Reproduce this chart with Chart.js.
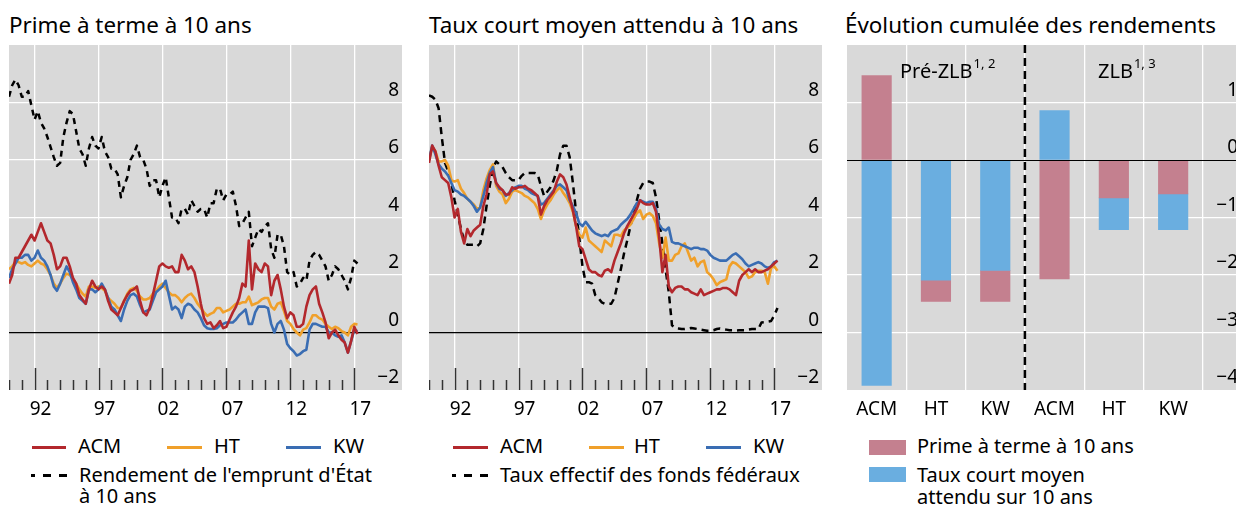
<!DOCTYPE html>
<html><head><meta charset="utf-8">
<script src="https://cdn.jsdelivr.net/npm/chart.js@4.4.1/dist/chart.umd.min.js"></script>
<style>
html,body{margin:0;padding:0;background:#fff;}
body{width:1236px;height:506px;overflow:hidden;position:relative;font-family:"Noto Sans",sans-serif;color:#000;}
.title{position:absolute;top:10px;font-size:22.4px;line-height:30px;white-space:nowrap;}
.leg{position:absolute;font-size:20px;line-height:24px;white-space:nowrap;}
.ln{position:absolute;height:3px;}
.dash{position:absolute;height:3px;background:#000;}
.sq{position:absolute;width:37px;height:15px;}
canvas{position:absolute;display:block;}
</style></head><body>

<div class="title" style="left:9px">Prime à terme à 10 ans</div>
<div class="title" style="left:429px">Taux court moyen attendu à 10 ans</div>
<div class="title" style="left:845px">Évolution cumulée des rendements</div>

<canvas id="c1" width="393" height="385" style="left:9px;top:45px"></canvas>
<canvas id="c2" width="393" height="385" style="left:429px;top:45px"></canvas>
<canvas id="c3" width="394" height="385" style="left:847px;top:45px"></canvas>

<!-- legend left -->
<div class="ln" style="left:32px;top:446px;width:34px;background:#b3282d"></div>
<div class="leg" style="left:78px;top:434px">ACM</div>
<div class="ln" style="left:167px;top:446px;width:35px;background:#f0a02a"></div>
<div class="leg" style="left:214px;top:434px">HT</div>
<div class="ln" style="left:286px;top:446px;width:35px;background:#3a6db3"></div>
<div class="leg" style="left:333px;top:434px">KW</div>
<div class="dash" style="left:31px;top:474px;width:4px"></div>
<div class="dash" style="left:43px;top:474px;width:8px"></div>
<div class="dash" style="left:59px;top:474px;width:8px"></div>
<div class="leg" style="left:79px;top:464px;line-height:21px">Rendement de l'emprunt d'État<br>à 10 ans</div>

<!-- legend middle -->
<div class="ln" style="left:453px;top:446px;width:35px;background:#b3282d"></div>
<div class="leg" style="left:500px;top:434px">ACM</div>
<div class="ln" style="left:589px;top:446px;width:35px;background:#f0a02a"></div>
<div class="leg" style="left:634px;top:434px">HT</div>
<div class="ln" style="left:706px;top:446px;width:35px;background:#3a6db3"></div>
<div class="leg" style="left:753px;top:434px">KW</div>
<div class="dash" style="left:452px;top:474px;width:4px"></div>
<div class="dash" style="left:464px;top:474px;width:8px"></div>
<div class="dash" style="left:480px;top:474px;width:8px"></div>
<div class="leg" style="left:500px;top:464px;line-height:21px">Taux effectif des fonds fédéraux</div>

<!-- legend right -->
<div class="sq" style="left:869px;top:440px;background:#c4808f"></div>
<div class="leg" style="left:917px;top:434px">Prime à terme à 10 ans</div>
<div class="sq" style="left:869px;top:467px;background:#6aaee0"></div>
<div class="leg" style="left:917px;top:464px;line-height:21.5px">Taux court moyen<br>attendu sur 10 ans</div>

<script>
// ---------------- DATA ----------------
const dates = [
1990,1990.25,1990.5,1990.75, 1991,1991.25,1991.5,1991.75, 1992,1992.25,1992.5,1992.75,
1993,1993.25,1993.5,1993.75, 1994,1994.25,1994.5,1994.75, 1995,1995.25,1995.5,1995.75,
1996,1996.25,1996.5,1996.75, 1997,1997.25,1997.5,1997.75, 1998,1998.25,1998.5,1998.75,
1999,1999.25,1999.5,1999.75, 2000,2000.25,2000.5,2000.75, 2001,2001.25,2001.5,2001.75,
2002,2002.25,2002.5,2002.75, 2003,2003.25,2003.5,2003.75, 2004,2004.25,2004.5,2004.75,
2005,2005.25,2005.5,2005.75, 2006,2006.25,2006.5,2006.75, 2007,2007.25,2007.5,2007.75,
2008,2008.25,2008.5,2008.75, 2009,2009.25,2009.5,2009.75, 2010,2010.25,2010.5,2010.75,
2011,2011.25,2011.5,2011.75, 2012,2012.25,2012.5,2012.75, 2013,2013.25,2013.5,2013.75,
2014,2014.25,2014.5,2014.75, 2015,2015.25,2015.5,2015.75, 2016,2016.25,2016.5,2016.75,
2017,2017.25];

// Left panel: 10-year term premium
const termPremiumACM = [
1.7,2.0,2.6,2.6, 2.8,3.0,3.2,3.4, 3.2,3.5,3.8,3.5, 3.2,3.1,2.7,2.2, 2.3,2.6,2.6,2.3,
1.9,1.7,1.3,1.15, 1.0,1.5,1.8,1.6, 1.5,1.6,1.5,1.1, 0.8,0.7,0.6,0.85, 1.1,1.3,1.45,1.5,
1.6,1.1,0.7,0.6, 0.85,1.3,1.8,2.3, 2.4,2.3,2.25,2.3, 2.1,2.1,2.7,2.5, 2.2,2.3,2.1,1.6,
1.0,0.5,0.3,0.35, 0.15,0.25,0.4,0.15, 0.2,0.45,0.7,0.9, 1.2,1.7,1.6,3.2, 1.5,2.4,2.2,2.1,
2.4,2.3,1.3,1.8, 2.0,1.5,0.9,0.5, 0.7,0.6,0.2,0.2, 0.3,0.9,1.3,1.5, 1.6,1.0,0.7,0.35,
-0.2,0.0,0.1,-0.1, -0.25,-0.35,-0.7,-0.3, 0.2,-0.05];
const termPremiumHT = [
2.2,2.3,2.45,2.45, 2.4,2.45,2.35,2.3, 2.4,2.5,2.4,2.35, 2.2,2.0,1.7,1.55, 1.7,1.9,2.05,2.0,
1.85,1.7,1.5,1.35, 1.25,1.6,1.6,1.55, 1.6,1.55,1.45,1.2, 1.1,1.0,0.85,0.85, 1.1,1.35,1.5,1.55,
1.45,1.25,1.15,1.15, 1.2,1.35,1.45,1.6, 1.7,1.55,1.4,1.3, 1.3,1.2,1.05,1.2, 1.3,1.35,1.2,1.0,
0.85,0.7,0.58,0.65, 0.7,0.85,0.85,0.7, 0.75,0.8,0.9,1.0, 1.0,1.05,1.05,1.25, 0.95,1.0,1.05,1.15,
1.2,1.2,0.9,0.8, 1.0,1.05,0.75,0.4, 0.3,0.12,0.0,-0.1, 0.1,0.15,0.35,0.6, 0.6,0.5,0.45,0.3,
0.2,0.12,0.2,0.15, 0.05,0.0,-0.1,0.2, 0.3,0.28];
const termPremiumKW = [
1.9,2.2,2.4,2.6, 2.6,2.7,2.7,2.5, 2.6,2.85,2.6,2.5, 2.3,2.0,1.6,1.45, 1.7,2.0,2.3,2.1,
1.75,1.5,1.2,1.1, 1.0,1.5,1.5,1.4, 1.5,1.7,1.5,1.2, 0.9,0.8,0.6,0.4, 0.8,1.1,1.3,1.35,
1.25,0.95,0.7,0.75, 0.8,1.1,1.4,1.5, 1.6,1.8,1.3,0.8, 0.9,0.8,0.5,0.9, 1.0,0.95,0.8,0.7,
0.5,0.25,0.15,0.12, 0.12,0.15,0.25,0.3, 0.35,0.35,0.35,0.45, 0.6,0.7,0.8,0.3, 0.3,0.7,0.9,0.9,
0.9,0.85,0.3,0.0, 0.3,0.4,0.1,-0.4, -0.55,-0.65,-0.8,-0.75, -0.65,-0.6,0.1,0.3, 0.3,0.25,0.2,0.2,
0.0,0.0,-0.1,-0.15, -0.1,-0.35,-0.7,-0.3, 0.1,0.05];
const govBond10y = [
8.2,8.6,8.8,8.6, 8.2,8.2,8.4,7.9, 7.4,7.7,7.3,7.1, 6.8,6.45,6.1,5.8, 5.9,6.8,7.3,7.7,
7.6,7.0,6.4,6.2, 5.8,6.4,6.8,6.5, 6.4,6.8,6.3,6.1, 5.7,5.7,5.5,4.7, 5.1,5.4,6.0,6.2,
6.5,6.1,6.0,5.7, 5.1,5.3,5.3,4.7, 5.1,5.4,4.7,4.0, 4.0,3.8,4.3,4.3, 4.1,4.6,4.4,4.2,
4.3,4.3,4.0,4.5, 4.5,5.0,5.0,4.6, 4.8,4.8,4.9,4.4, 3.7,3.8,4.0,4.2, 3.0,3.3,3.6,3.5,
3.7,3.8,2.9,2.6, 3.4,3.4,3.0,2.1, 2.0,2.1,1.6,1.7, 1.9,1.8,2.5,2.7, 2.8,2.7,2.5,2.3,
1.8,2.0,2.3,2.2, 2.0,1.8,1.5,1.9, 2.5,2.4];

// Middle panel: expected average short rate over 10 years
const shortRateACM = [
5.9,6.5,6.3,5.8, 5.4,5.3,5.2,4.7, 4.0,4.3,3.5,3.1, 3.6,3.35,3.55,3.65, 3.75,4.4,4.8,5.5,
5.6,5.2,5.05,4.95, 4.8,4.8,5.05,5.0, 5.05,5.05,5.1,5.0, 4.95,4.85,4.75,4.1, 4.4,4.6,4.75,4.9,
5.25,5.5,5.4,5.15, 4.7,4.25,3.7,3.0, 2.9,2.55,2.2,2.1, 2.1,2.0,1.95,2.15, 2.2,2.1,2.5,2.8,
3.1,3.45,3.7,3.9, 4.1,4.3,4.6,4.5, 4.45,4.45,4.5,4.2, 3.3,2.1,2.7,1.6, 1.4,1.55,1.6,1.6,
1.5,1.5,1.4,1.35, 1.3,1.5,1.3,1.35, 1.4,1.45,1.5,1.5, 1.55,1.55,1.5,1.4, 1.3,1.8,2.0,2.1,
2.2,2.1,2.2,2.1, 2.1,2.15,2.2,2.3, 2.4,2.5];
const shortRateHT = [
6.0,6.45,6.3,5.95, 5.95,6.0,5.8,5.3, 5.25,5.3,5.0,4.85, 4.65,4.55,4.45,4.3, 4.35,4.95,5.35,5.65,
5.85,5.1,4.9,4.8, 4.5,4.65,4.9,4.95, 4.9,4.85,4.75,4.7, 4.6,4.5,4.3,3.95, 4.25,4.45,4.6,4.8,
4.95,5.05,4.85,4.7, 4.5,4.2,3.7,3.4, 3.3,3.65,3.2,3.1, 3.0,2.9,2.8,3.2, 3.1,3.0,3.4,3.4,
3.35,3.55,3.65,3.75, 3.95,4.15,4.25,3.95, 4.1,4.15,4.05,3.8, 3.1,2.6,3.3,2.5, 2.5,2.7,2.75,3.0,
3.1,2.8,2.5,2.6, 2.3,2.45,2.5,2.1, 2.0,1.85,1.65,1.75, 1.8,1.85,2.3,2.45, 2.4,2.3,2.2,2.1,
1.9,1.95,2.1,2.15, 2.15,2.1,1.7,2.25, 2.3,2.15];
const shortRateKW = [
6.0,6.5,6.2,5.85, 5.7,5.6,5.45,5.2, 4.95,4.9,4.8,4.75, 4.65,4.55,4.4,4.2, 4.35,4.75,5.2,5.55,
5.75,5.2,5.0,4.95, 4.75,4.85,4.95,5.05, 5.1,5.1,5.0,4.95, 4.85,4.8,4.75,4.45, 4.5,4.65,4.8,4.95,
5.1,5.15,5.05,4.95, 4.6,4.4,4.15,3.8, 3.7,3.85,3.7,3.55, 3.45,3.4,3.35,3.4, 3.35,3.5,3.55,3.6,
3.75,3.85,3.95,4.1, 4.3,4.5,4.6,4.55, 4.5,4.55,4.55,4.3, 3.75,3.6,3.55,3.65, 3.15,3.1,3.1,3.05,
3.0,2.95,2.9,2.95, 2.95,2.9,2.9,2.85, 2.7,2.6,2.55,2.5, 2.5,2.5,2.6,2.7, 2.75,2.65,2.55,2.4,
2.3,2.35,2.4,2.45, 2.4,2.3,2.25,2.3, 2.45,2.5];
const fedFundsRate = [
8.25,8.2,8.1,7.8, 6.8,5.9,5.6,5.2, 4.6,4.1,3.6,3.2, 3.05,3.05,3.05,3.0, 3.1,3.6,4.4,5.1,
5.7,5.95,5.85,5.75, 5.55,5.4,5.3,5.3, 5.3,5.45,5.55,5.55, 5.55,5.55,5.5,5.1, 4.75,4.9,5.05,5.3,
5.65,6.2,6.5,6.5, 6.1,5.2,4.2,3.3, 2.3,1.75,1.75,1.7, 1.3,1.2,1.05,1.0, 1.0,1.0,1.2,1.7,
2.2,2.75,3.2,3.7, 4.2,4.6,5.0,5.2, 5.25,5.25,5.2,4.7, 3.9,3.1,2.2,1.4, 0.25,0.16,0.14,0.12,
0.12,0.14,0.16,0.14, 0.12,0.1,0.08,0.06, 0.06,0.08,0.12,0.14, 0.12,0.1,0.08,0.08, 0.07,0.08,0.08,0.08,
0.1,0.12,0.12,0.12, 0.35,0.36,0.38,0.4, 0.6,0.85];

const xTickYears  = [1992, 1997, 2002, 2007, 2012, 2017];
const xTickLabels = ['92', '97', '02', '07', '12', '17'];
const lineYTicks  = [-2, 0, 2, 4, 6, 8, 10];

// Right panel: cumulative change in yields
const barCategories = ['ACM', 'HT', 'KW', 'ACM', 'HT', 'KW'];
const barPeriod     = ['pre', 'pre', 'pre', 'zlb', 'zlb', 'zlb'];
const termPremiumChange = [1.47, -0.37, -0.54, -2.07, -0.66, -0.59];
const shortRateChange   = [-3.92, -2.09, -1.92, 0.86, -0.55, -0.62];
const barYTicks = [-4, -3, -2, -1, 0, 1, 2];
const barGridPositions = [0, 0.5, 1, 1.5, 2, 2.5, 3, 3.5, 4, 4.5, 5, 5.5];

// ---------------- STYLE ----------------
const FONT = '"Noto Sans", sans-serif';
const RED = '#b3282d', ORANGE = '#f0a02a', BLUE = '#3a6db3';
const PINK = '#c4808f', LBLUE = '#6aaee0', GRAY = '#d9d9d9';
const CLEAR = 'rgba(0,0,0,0)';
const fmt = v => v < 0 ? '\u2212' + Math.abs(v) : String(v);
const tv = c => (c && c.tick) ? c.tick.value : NaN;

const bgPlugin = {
  id: 'bg',
  beforeDraw(chart) {
    const {ctx, chartArea: a} = chart;
    ctx.save(); ctx.fillStyle = GRAY;
    ctx.fillRect(a.left, a.top, a.right - a.left, a.bottom - a.top);
    ctx.restore();
  }
};
const yearTicksPlugin = {
  id: 'yearTicks',
  beforeDatasetsDraw(chart) {
    const {ctx, chartArea: a} = chart; const xs = chart.scales.x;
    ctx.save(); ctx.strokeStyle = '#333'; ctx.lineWidth = 1.5;
    for (let yr = 1990; yr <= 2017; yr++) {
      const px = Math.round(xs.getPixelForValue(yr)) + 0.5;
      const len = (yr % 5 === 2) ? 22 : 10;
      ctx.beginPath(); ctx.moveTo(px, a.bottom); ctx.lineTo(px, a.bottom - len); ctx.stroke();
    }
    ctx.restore();
  }
};

function lineChart(id, series) {
  return new Chart(document.getElementById(id), {
    type: 'line',
    data: {
      datasets: series.map(s => ({
        label: s.label,
        data: dates.map((d, i) => ({x: d, y: s.values[i]})),
        borderColor: s.color, borderWidth: s.dash ? 2.5 : 2.6,
        borderDash: s.dash || [], pointRadius: 0, fill: false, tension: 0,
        borderJoinStyle: 'round', borderCapStyle: 'butt'
      }))
    },
    options: {
      responsive: false, animation: false, events: [],
      layout: {padding: 0},
      plugins: {legend: {display: false}, tooltip: {enabled: false}},
      scales: {
        x: {
          type: 'linear', min: 1990, max: 2020.73, offset: false,
          afterBuildTicks: s => { s.ticks = xTickYears.map(v => ({value: v})); },
          ticks: {callback: v => xTickLabels[xTickYears.indexOf(v)], labelOffset: 6, padding: 8,
                  maxRotation: 0, autoSkip: false, font: {family: FONT, size: 19}, color: '#000'},
          grid: {color: '#fff', lineWidth: 1.3, drawTicks: false, offset: false},
          border: {display: false},
          afterFit: s => { s.height = 40; s.paddingLeft = 0; s.paddingRight = 0; }
        },
        y: {
          type: 'linear', position: 'right', min: -2, max: 10,
          afterBuildTicks: s => { s.ticks = lineYTicks.map(v => ({value: v})); },
          ticks: {mirror: true, padding: -3, labelOffset: -12, font: {family: FONT, size: 19}, color: '#000',
                  callback: v => v === 10 ? '' : fmt(v)},
          grid: {drawTicks: false,
                 color: c => tv(c) === 0 ? '#000' : ((tv(c) === -2 || tv(c) === 10 || isNaN(tv(c))) ? CLEAR : '#fff'),
                 lineWidth: c => tv(c) === 0 ? 1.2 : 1.3},
          border: {display: false},
          afterFit: s => { s.width = 0; s.paddingTop = 0; s.paddingBottom = 0; }
        }
      }
    },
    plugins: [bgPlugin, yearTicksPlugin]
  });
}

lineChart('c1', [
  {label: 'ACM', values: termPremiumACM, color: RED},
  {label: 'KW', values: termPremiumKW, color: BLUE},
  {label: 'HT', values: termPremiumHT, color: ORANGE},
  {label: "Rendement de l'emprunt d'État à 10 ans", values: govBond10y, color: '#000', dash: [6, 5]}
]);
lineChart('c2', [
  {label: 'ACM', values: shortRateACM, color: RED},
  {label: 'KW', values: shortRateKW, color: BLUE},
  {label: 'HT', values: shortRateHT, color: ORANGE},
  {label: 'Taux effectif des fonds fédéraux', values: fedFundsRate, color: '#000', dash: [7, 5]}
]);

// ---------------- BAR CHART ----------------
const barOverlay = {
  id: 'barOverlay',
  afterDatasetsDraw(chart) {
    const {ctx, chartArea: a, scales: {x, y}} = chart;
    ctx.save();
    const y0 = Math.round(y.getPixelForValue(0)) + 0.5;
    ctx.strokeStyle = '#000'; ctx.lineWidth = 1.2;
    ctx.beginPath(); ctx.moveTo(a.left, y0); ctx.lineTo(a.right, y0); ctx.stroke();
    const xs = x.getPixelForValue(2.5);
    ctx.lineWidth = 2.5; ctx.setLineDash([8, 5]);
    ctx.beginPath(); ctx.moveTo(xs, a.top); ctx.lineTo(xs, a.bottom); ctx.stroke();
    ctx.setLineDash([]);
    ctx.fillStyle = '#000'; ctx.textBaseline = 'alphabetic'; ctx.textAlign = 'left';
    const put = (main, sup, left) => {
      ctx.font = '20px ' + FONT; ctx.fillText(main, left, a.top + 33);
      const w = ctx.measureText(main).width;
      ctx.font = '13px ' + FONT; ctx.fillText(sup, left + w + 1, a.top + 23);
    };
    put('Pré-ZLB', '1, 2', a.left + 53);
    put('ZLB', '1, 3', a.left + 251);
    ctx.restore();
  }
};

const idx = barCategories.map((_, i) => i);
new Chart(document.getElementById('c3'), {
  type: 'bar',
  data: {
    datasets: [
      {label: 'Taux court moyen attendu sur 10 ans', backgroundColor: LBLUE, stack: 's',
       data: idx.filter(i => barPeriod[i] === 'pre').map(i => ({x: i, y: shortRateChange[i]}))},
      {label: 'Prime à terme à 10 ans', backgroundColor: PINK, stack: 's',
       data: idx.map(i => ({x: i, y: termPremiumChange[i]}))},
      {label: 'Taux court moyen attendu sur 10 ans (ZLB)', backgroundColor: LBLUE, stack: 's',
       data: idx.filter(i => barPeriod[i] === 'zlb').map(i => ({x: i, y: shortRateChange[i]}))}
    ]
  },
  options: {
    responsive: false, animation: false, events: [],
    layout: {padding: 0},
    datasets: {bar: {barThickness: 29.5, borderWidth: 0}},
    plugins: {legend: {display: false}, tooltip: {enabled: false}},
    scales: {
      x: {
        type: 'linear', min: -0.5, max: 6.144, offset: false,
        afterBuildTicks: s => { s.ticks = barGridPositions.map(v => ({value: v})); },
        ticks: {callback: v => Number.isInteger(v) ? barCategories[v] : '', padding: 8, maxRotation: 0, autoSkip: false,
                font: {family: FONT, size: 19}, color: '#000'},
        grid: {drawTicks: false, lineWidth: 1.3, offset: false,
               color: c => (isNaN(tv(c)) || Number.isInteger(tv(c))) ? CLEAR : '#fff'},
        border: {display: false},
        afterFit: s => { s.height = 40; s.paddingLeft = 0; s.paddingRight = 0; }
      },
      y: {
        type: 'linear', position: 'right', min: -4, max: 2, stacked: true,
        afterBuildTicks: s => { s.ticks = barYTicks.map(v => ({value: v})); },
        ticks: {mirror: true, padding: -3, labelOffset: -12, font: {family: FONT, size: 19}, color: '#000',
                callback: v => v === 2 ? '' : fmt(v)},
        grid: {drawTicks: false, lineWidth: 1.3,
               color: c => (isNaN(tv(c)) || tv(c) === 2 || tv(c) === -4 || tv(c) === 0) ? CLEAR : '#fff'},
        border: {display: false},
        afterFit: s => { s.width = 0; s.paddingTop = 0; s.paddingBottom = 0; }
      }
    }
  },
  plugins: [bgPlugin, barOverlay]
});
</script>
</body></html>
